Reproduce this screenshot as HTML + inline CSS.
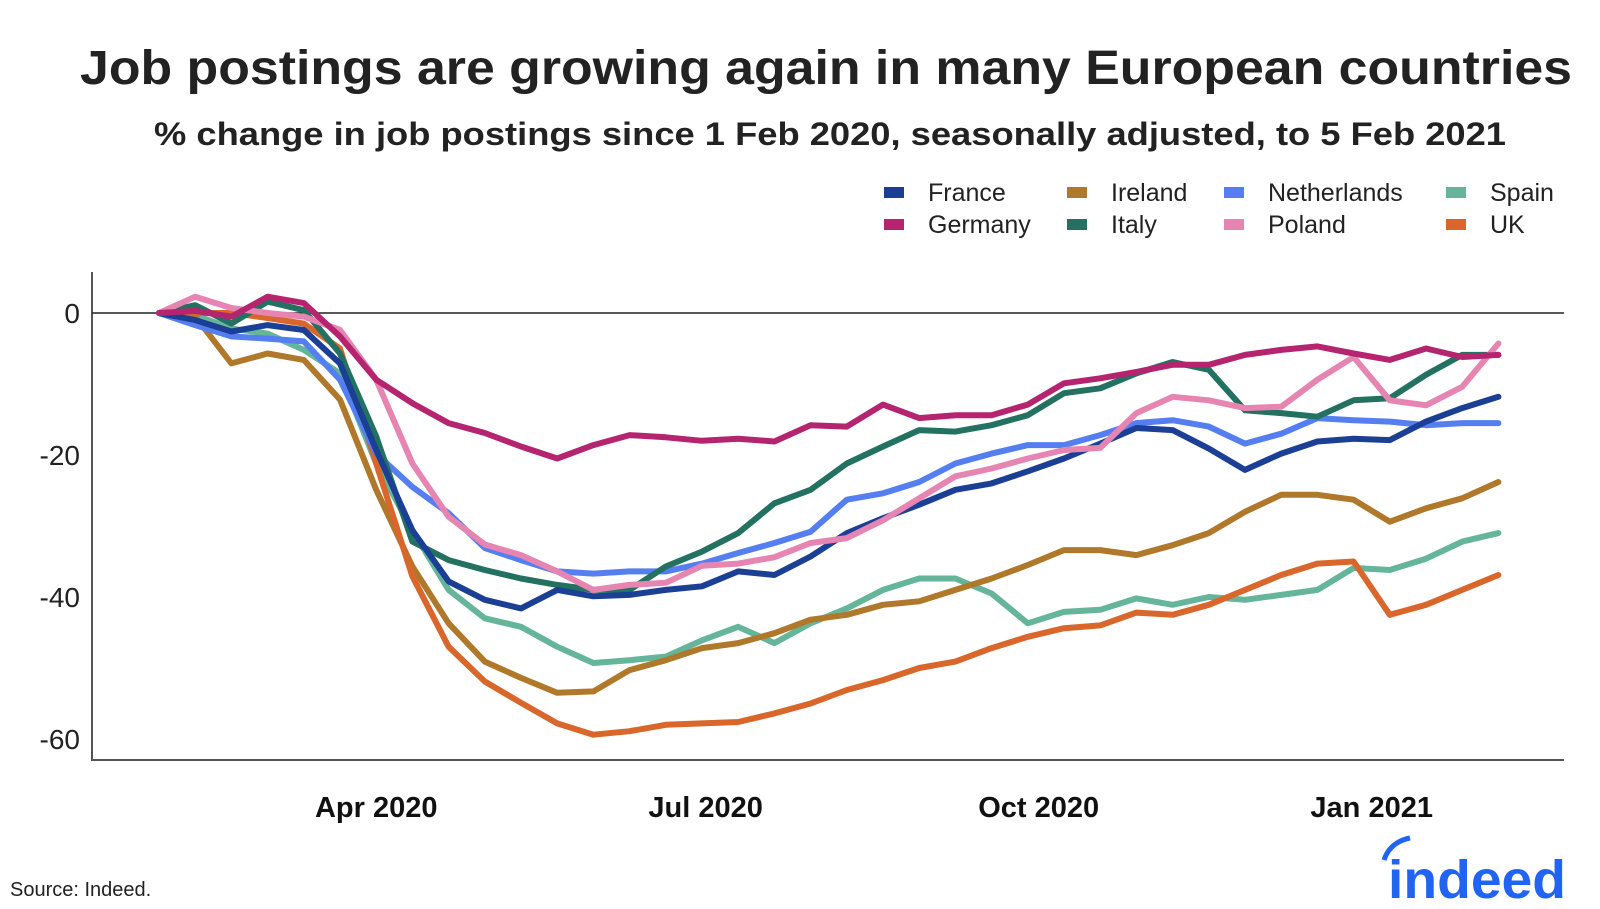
<!DOCTYPE html>
<html><head><meta charset="utf-8"><style>
html,body{margin:0;padding:0;background:#fff;}
svg{display:block;font-family:"Liberation Sans",sans-serif;}
</style></head><body>
<svg id="chart" width="1600" height="909" viewBox="0 0 1600 909" xmlns="http://www.w3.org/2000/svg">
<text x="80" y="84" font-size="48" font-weight="bold" fill="#222" textLength="1492" lengthAdjust="spacingAndGlyphs">Job postings are growing again in many European countries</text>
<text x="154" y="145" font-size="32" font-weight="bold" fill="#222" textLength="1352" lengthAdjust="spacingAndGlyphs">% change in job postings since 1 Feb 2020, seasonally adjusted, to 5 Feb 2021</text>
<g id="legend"></g>
<g id="axes"></g>
<g id="series"></g>
<text x="10" y="896" font-size="20" fill="#222">Source: Indeed.</text>
<g>
<path d="M1384 860 Q1390 842 1410 838" stroke="#2164f3" stroke-width="5" fill="none"/>
<text x="1388" y="898" font-size="54" font-weight="bold" fill="#2164f3" textLength="178" lengthAdjust="spacingAndGlyphs">indeed</text>
</g>
</svg>
<script>
const days = [0,10,20,30,40,50,60,70,80,90,100,110,120,130,140,150,160,170,180,190,200,210,220,230,240,250,260,270,280,290,300,310,320,330,340,350,360,370];
const countries = ["France","Germany","Ireland","Italy","Netherlands","Poland","Spain","UK"];
const colors = ["#1a3f95","#b5246f","#b0782a","#237160","#557ff0","#e785b2","#65b59a","#d9662a"];
const france = [0,-1,-2.6,-1.7,-2.4,-7.1,-19.3,-30.6,-37.8,-40.4,-41.6,-39,-39.9,-39.7,-39,-38.5,-36.4,-36.9,-34.3,-31,-28.9,-27,-24.9,-24,-22.3,-20.5,-18.4,-16.2,-16.5,-19.1,-22.1,-19.8,-18.1,-17.7,-17.9,-15.3,-13.4,-11.8];
const germany = [0,0.3,-0.5,2.3,1.4,-3.3,-9.4,-12.7,-15.5,-16.9,-18.8,-20.5,-18.6,-17.2,-17.5,-18,-17.7,-18.1,-15.8,-16,-12.9,-14.8,-14.4,-14.4,-12.9,-9.9,-9.2,-8.3,-7.3,-7.3,-5.9,-5.2,-4.7,-5.7,-6.6,-5,-6.2,-5.9];
const ireland = [0,-0.5,-7.1,-5.7,-6.6,-12.2,-24.9,-35.7,-43.7,-49.1,-51.4,-53.5,-53.3,-50.3,-48.9,-47.2,-46.5,-45.1,-43.2,-42.5,-41.1,-40.6,-39,-37.4,-35.5,-33.4,-33.4,-34.1,-32.7,-31,-28,-25.6,-25.6,-26.3,-29.4,-27.5,-26.1,-23.8];
const italy = [0,1.1,-1.5,1.6,0.4,-5.7,-17.4,-32.2,-34.8,-36.2,-37.4,-38.3,-39,-39,-35.7,-33.6,-31,-26.8,-24.9,-21.2,-18.8,-16.5,-16.7,-15.8,-14.4,-11.3,-10.6,-8.5,-6.9,-8,-13.7,-14.1,-14.6,-12.3,-12,-8.7,-5.9,-5.9];
const netherlands = [0,-1.7,-3.3,-3.6,-4,-9.4,-19.8,-24.5,-28.2,-33.1,-34.8,-36.4,-36.7,-36.4,-36.4,-35.3,-33.8,-32.4,-30.8,-26.3,-25.4,-23.8,-21.2,-19.8,-18.6,-18.6,-17.2,-15.5,-15.1,-16,-18.4,-17,-14.8,-15.1,-15.3,-15.8,-15.5,-15.5];
const poland = [0,2.3,0.7,0,-0.5,-2.4,-9.4,-21.2,-28.7,-32.6,-34.1,-36.4,-39,-38.3,-38,-35.6,-35.3,-34.4,-32.4,-31.7,-29.2,-26.1,-23,-21.9,-20.5,-19.3,-19,-14.1,-11.8,-12.3,-13.4,-13.2,-9.4,-6.2,-12.3,-13,-10.4,-4.3];
const spain = [0,-0.3,-2.2,-2.9,-5.2,-8.5,-21.2,-30.6,-39,-43,-44.2,-47,-49.3,-48.9,-48.4,-46.1,-44.2,-46.5,-43.7,-41.6,-39,-37.4,-37.4,-39.5,-43.7,-42.1,-41.8,-40.2,-41.1,-40,-40.4,-39.7,-39,-35.9,-36.2,-34.6,-32.2,-31];
const uk = [0,0,0,-0.7,-1.5,-5,-21.2,-37.1,-47,-51.9,-54.9,-57.8,-59.4,-58.9,-58,-57.8,-57.6,-56.4,-55,-53.1,-51.7,-50,-49.1,-47.2,-45.6,-44.4,-44,-42.2,-42.5,-41.1,-39,-36.9,-35.3,-35,-42.5,-41.1,-39,-36.9];
const yTicks = [0,-20,-40,-60];
const xTickDays = [60,151,243,335];
const xTickLabels = ["Apr 2020","Jul 2020","Oct 2020","Jan 2021"];

const NS="http://www.w3.org/2000/svg";
const xScale = d => 159 + d*3.62;
const yScale = v => 313 - v*7.1;
function mk(tag, attrs, parent){const e=document.createElementNS(NS,tag);for(const k in attrs)e.setAttribute(k,attrs[k]);parent.appendChild(e);return e;}
const axes=document.getElementById('axes');
let el;
el=mk('line',{x1:92,y1:272,x2:92,y2:760,stroke:'#555','stroke-width':2},axes);


el=mk('line',{x1:91,y1:760,x2:1564,y2:760,stroke:'#555','stroke-width':2},axes);


el=mk('line',{x1:92,y1:yScale(0),x2:1564,y2:yScale(0),stroke:'#222','stroke-width':1.5},axes);


yTicks.forEach(t=>{
  const tx=mk('text',{x:80,y:yScale(t)+10,'font-size':28,'text-anchor':'end',fill:'#222'},axes);
  tx.textContent=t;
  
  
});
xTickDays.forEach((d,i)=>{
  const tx=mk('text',{x:xScale(d),y:817,'font-size':29,'font-weight':'bold','text-anchor':'middle',fill:'#111'},axes);
  tx.textContent=xTickLabels[i];
  
  
});
const data=[france,germany,ireland,italy,netherlands,poland,spain,uk];
const series=document.getElementById('series');
const drawOrder=[6,2,7,4,3,0,5,1];
drawOrder.forEach(i=>{
  const vals=data[i];
  const pts=days.map((d,j)=>xScale(d).toFixed(1)+','+yScale(vals[j]).toFixed(1)).join(' ');
  const p=mk('polyline',{points:pts,fill:'none',stroke:colors[i],'stroke-width':6,'stroke-linejoin':'round','stroke-linecap':'round'},series);
  
  
});
const legend=document.getElementById('legend');
const lx=[884,1067,1224,1446];
const legendPos=[[0,0],[0,1],[1,0],[1,1],[2,0],[2,1],[3,0],[3,1]];
countries.forEach((c,i)=>{
  const lorder=legendPos[i];
  const x=lx[lorder[0]], y=lorder[1]?224:192;
  const g=mk('g',{},legend);
  
  
  mk('rect',{x:x,y:y-5,width:20,height:11,fill:colors[i]},g);
  const t=mk('text',{x:x+44,y:y+9,'font-size':25,fill:'#222'},g);
  t.textContent=c;
});
</script>
</body></html>
